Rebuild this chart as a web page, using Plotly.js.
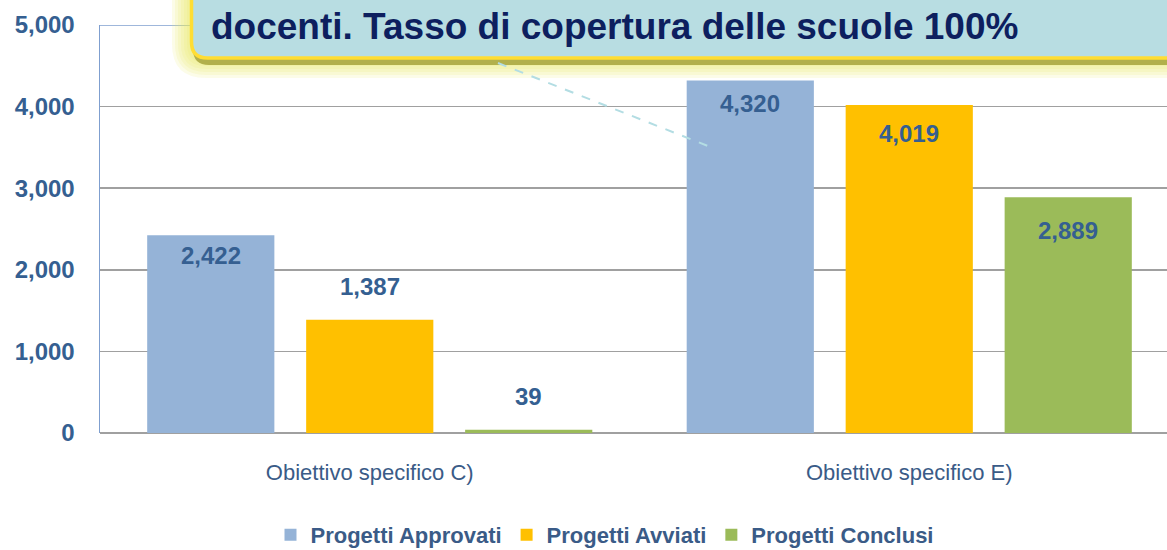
<!DOCTYPE html>
<html>
<head>
<meta charset="utf-8">
<script src="https://cdn.plot.ly/plotly-3.0.1.min.js"></script>
<style>html,body{margin:0;padding:0;background:#fff;}#chart{width:1167px;height:550px;}</style>
</head>
<body>
<div id="chart"></div>
<script>
// ---- data ----
const categories = ["Obiettivo specifico C)", "Obiettivo specifico E)"];
const seriesNames = ["Progetti Approvati", "Progetti Avviati", "Progetti Conclusi"];
const approvati = [2422, 4320];
const avviati = [1387, 4019];
const conclusi = [39, 2889];
const calloutText = "docenti. Tasso di copertura delle scuole 100%";

// ---- style ----
const colors = ["#95b3d7", "#ffc000", "#9bbb59"];
const labelColor = "#355f91";
const FONT = "Liberation Sans, Arial, sans-serif";
// label vertical offsets (px, + = up) per series per category
const labelShift = [[-20, -23], [33, -28], [33, -33]];

const L = 100, T = 25, PW = 1067, PH = 408;
const px = x => (x - L) / PW;
const py = y => (T + PH - y) / PH;

const allSeries = [approvati, avviati, conclusi];
const traces = allSeries.map((vals, i) => ({
  type: "bar",
  name: seriesNames[i],
  x: categories,
  y: vals,
  marker: {color: colors[i]},
  hoverinfo: "x+y+name"
}));

const slot = 159;
const annotations = [];
allSeries.forEach((vals, i) => {
  vals.forEach((v, j) => {
    annotations.push({
      x: categories[j], y: v, xref: "x", yref: "y",
      text: v.toLocaleString("en-US"),
      showarrow: false,
      xshift: (i - 1) * slot,
      yshift: labelShift[i][j],
      font: {family: FONT, size: 24, color: labelColor, weight: "bold"},
      yanchor: "middle"
    });
  });
});

annotations.push({
  xref: "paper", yref: "paper",
  x: px(209), y: py(27), xanchor: "left", yanchor: "middle",
  text: calloutText, showarrow: false,
  font: {family: FONT, size: 37, color: "#0d1f5f", weight: "bold"}
});

function roundRect(x0, y0, x1, y1, r) {
  const rx = r / PW, ry = r / PH;
  const X0 = px(x0), X1 = px(x1), Y0 = py(y0), Y1 = py(y1);
  return `M${X0},${Y0} L${X1},${Y0} L${X1},${Y1} L${X0 + rx},${Y1} Q${X0},${Y1} ${X0},${Y1 + ry} Z`;
}

const shapes = [
  {type: "line", xref: "paper", yref: "y", x0: 0, x1: 1, y0: 5000, y1: 5000,
   line: {color: "#7f9fcf", width: 1.5}, layer: "below"},
];
for (let k = 6; k >= 1; k--) {
  shapes.push({type: "path", xref: "paper", yref: "paper",
    path: roundRect(190 - k * 3, -30, 1200, 60 + k * 3, 16 + k * 3),
    fillcolor: "rgba(232,232,90,0.14)", line: {width: 0}, layer: "above"});
}
shapes.push({type: "path", xref: "paper", yref: "paper",
  path: roundRect(193, -30, 1200, 65, 16),
  fillcolor: "#b2b04c", line: {width: 0}, layer: "above"});
shapes.push({type: "path", xref: "paper", yref: "paper",
  path: roundRect(191.5, -30, 1200, 58, 16),
  fillcolor: "#b8dde2", line: {color: "#ffdd33", width: 3.5}, layer: "above"});
shapes.push({type: "line", xref: "paper", yref: "paper",
  x0: px(498), y0: py(63), x1: px(708), y1: py(146),
  line: {color: "#b3dde3", width: 2, dash: "dash"}, layer: "above"});

const layout = {
  width: 1167, height: 550,
  margin: {l: L, r: 0, t: T, b: 550 - T - PH, pad: 0},
  paper_bgcolor: "#ffffff", plot_bgcolor: "#ffffff",
  barmode: "group", bargap: 0.116, bargroupgap: 0.2,
  showlegend: true,
  legend: {orientation: "h", xref: "container", yref: "container",
    x: 0.518, xanchor: "center", y: 1 - 535 / 550, yanchor: "middle",
    font: {family: FONT, size: 22, color: "#3a5b87", weight: "bold"},
    itemclick: false, tracegroupgap: 0},
  xaxis: {type: "category", range: [-0.5, -0.5 + PW / 539.5], showgrid: false,
    showline: false, zeroline: false, ticks: "", ticklabelstandoff: 24,
    tickfont: {family: FONT, size: 22, color: "#3a5b87"}},
  yaxis: {range: [0, 5000], dtick: 1000, tickformat: ",", showgrid: true,
    gridcolor: "#a0a0a0", gridwidth: 1.5, zeroline: true, zerolinecolor: "#a0a0a0",
    zerolinewidth: 1.5, showline: true, linecolor: "#7f9fcf", linewidth: 1.5,
    ticks: "", ticklabelstandoff: 19,
    tickfont: {family: FONT, size: 24, color: labelColor, weight: "bold"}},
  annotations: annotations,
  shapes: shapes
};

Plotly.newPlot("chart", traces, layout, {displayModeBar: false, staticPlot: true});
</script>
</body>
</html>
